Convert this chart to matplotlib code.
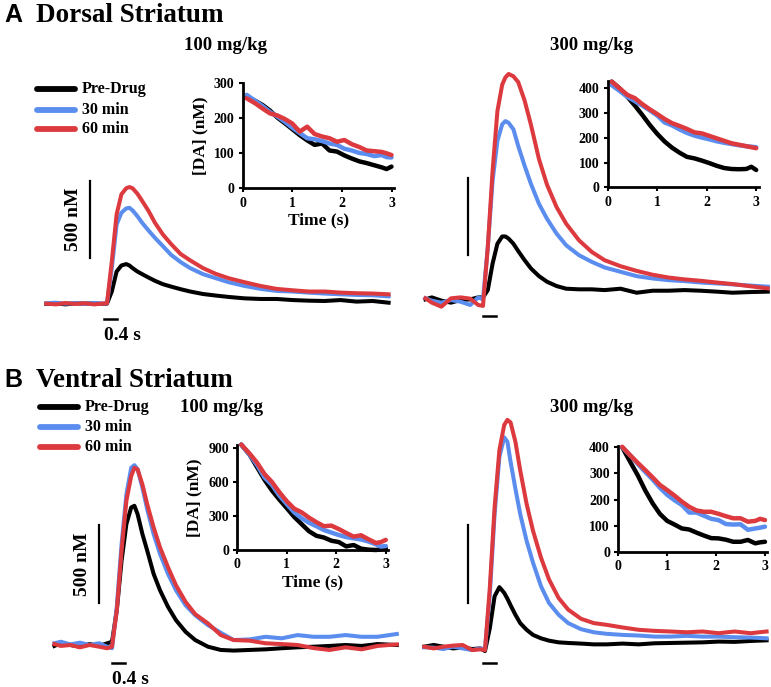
import matplotlib
matplotlib.use("Agg")
import matplotlib.pyplot as plt

W, H = 771, 687
BLACK, BLUE, RED = "#000000", "#5b8def", "#dc3a3f"
SERIF = "Liberation Serif"
SANS = "Liberation Sans"

CONDITIONS = ["Pre-Drug", "30 min", "60 min"]
COLORS = [BLACK, BLUE, RED]

# main traces: time from stimulation onset (s), [DA] (nM)
t_early = [-1.9, -1.6, -1.3, -1.0, -0.7, -0.4, -0.15, 0, 0.15, 0.3, 0.45, 0.6,
           0.7, 0.8, 0.95, 1.1, 1.3, 1.5, 1.75, 2.0, 2.3, 2.6, 3.0, 3.4, 3.8,
           4.3, 4.8, 5.3, 5.8, 6.3, 6.8, 7.3, 7.8, 8.3, 8.8]
t_late = [-1.8, -1.6, -1.3, -1.0, -0.7, -0.4, -0.15, 0, 0.15, 0.3, 0.45, 0.6,
          0.7, 0.8, 0.95, 1.1, 1.3, 1.5, 1.75, 2.0, 2.3, 2.6, 3.0, 3.4, 3.8,
          4.3, 4.8, 5.3, 5.8, 6.3, 6.8, 7.3, 7.8, 8.3, 8.9]

ds100_pre = [-6, -2, -9, -2, -4, -2, -6, -4, 74, 203, 242, 251, 242, 225, 203,
             186, 164, 143, 121, 106, 89, 74, 58, 48, 39, 30, 26, 26, 19, 15,
             13, 19, 9, 13, 2]
ds100_30 = [-2, 2, -4, 0, -6, 0, -4, -2, 225, 506, 582, 610, 614, 597, 560,
            517, 467, 420, 366, 311, 264, 225, 186, 160, 134, 110, 91, 78, 74,
            67, 61, 56, 52, 50, 43]
ds100_60 = [-4, -9, 0, -6, -2, -9, -4, -2, 268, 571, 701, 740, 748, 740, 705,
            658, 593, 517, 441, 381, 316, 275, 225, 188, 160, 134, 110, 91, 82,
            74, 74, 67, 63, 61, 56]

ds300_pre = [-9, 4, -17, -30, -13, -9, 4, 4, 51, 222, 350, 397, 397, 383, 350,
             303, 244, 190, 141, 105, 77, 60, 56, 56, 51, 60, 34, 47, 47, 51,
             47, 41, 34, 38, 41]
ds300_30 = [-2, -17, -30, -13, -24, -45, 4, -9, 329, 757, 1013, 1120, 1141,
            1130, 1088, 981, 853, 735, 607, 511, 415, 340, 276, 233, 197, 169,
            141, 126, 115, 109, 100, 94, 88, 81, 73]
ds300_60 = [-2, -30, -56, -2, 4, -4, -45, -51, 329, 821, 1205, 1376, 1423,
            1445, 1430, 1393, 1274, 1116, 895, 731, 586, 479, 372, 297, 244,
            205, 175, 150, 132, 120, 111, 100, 90, 77, 62]

vs100_pre = [-6, 11, 0, -11, 6, -6, 11, 21, 224, 545, 780, 887, 898, 844, 716,
             609, 459, 353, 246, 160, 85, 32, -11, -32, -36, -32, -28, -21,
             -15, -11, -6, 0, -6, 6, 0]
vs100_30 = [11, 21, 4, 15, 0, 11, -11, -21, 246, 652, 972, 1143, 1160, 1133,
            1015, 876, 716, 588, 459, 353, 256, 192, 128, 79, 32, 36, 53, 43,
            64, 53, 53, 64, 53, 53, 71]
vs100_60 = [6, -6, 0, -15, 0, -11, -21, -11, 224, 609, 930, 1090, 1143, 1133,
            1036, 908, 759, 630, 502, 385, 278, 199, 139, 64, 32, 28, 11, 6, 0,
            -20, -32, -15, -28, -6, 4]

vs300_pre = [2, 13, 2, -9, -4, -13, -9, -26, 121, 327, 386, 349, 312, 269, 208,
             154, 111, 78, 56, 41, 30, 26, 22, 17, 17, 22, 17, 24, 26, 28, 30,
             35, 33, 39, 43]
vs300_30 = [-2, -4, -13, 2, -9, -20, -9, -13, 338, 858, 1227, 1352, 1324, 1194,
            1021, 858, 685, 544, 392, 284, 208, 154, 115, 95, 85, 78, 74, 67,
            67, 72, 67, 67, 63, 61, 56]
vs300_60 = [2, -9, 2, 9, 13, -20, -15, -20, 381, 901, 1270, 1432, 1465, 1448,
            1324, 1140, 923, 750, 576, 436, 316, 241, 182, 154, 143, 126, 111,
            104, 100, 95, 100, 89, 100, 89, 100]

# insets: decay from the peak, time (s) and [DA] (nM)
t_inset = [0.08, 0.25, 0.4, 0.55, 0.7, 0.85, 1.0, 1.15, 1.3, 1.45, 1.6, 1.75,
           1.9, 2.05, 2.2, 2.35, 2.5, 2.65, 2.8, 2.9, 3.0]

ds100_in_pre = [262, 250, 238, 222, 202, 186, 169, 152, 137, 124, 128, 108,
                105, 94, 85, 77, 72, 66, 60, 55, 62]
ds100_in_30 = [267, 250, 235, 218, 205, 190, 173, 158, 143, 140, 135, 128, 124,
               113, 108, 101, 98, 92, 95, 89, 88]
ds100_in_60 = [257, 243, 228, 214, 208, 198, 185, 162, 176, 155, 148, 143, 133,
               138, 126, 118, 108, 106, 104, 100, 95]

ds300_in_pre = [427, 398, 365, 330, 292, 252, 216, 185, 160, 140, 123, 117,
                108, 98, 87, 78, 74, 73, 74, 83, 70]
ds300_in_30 = [413, 388, 365, 348, 330, 311, 290, 262, 250, 234, 220, 209, 201,
               194, 186, 180, 175, 170, 166, 164, 162]
ds300_in_60 = [427, 398, 373, 360, 336, 315, 296, 276, 259, 248, 236, 222, 218,
               208, 198, 188, 178, 172, 166, 162, 158]

vs100_in_pre = [930, 840, 730, 620, 525, 445, 369, 292, 228, 165, 125, 110, 82,
                70, 32, 44, 12, 3, 0, 5, 15]
vs100_in_30 = [930, 840, 750, 640, 575, 480, 405, 332, 280, 240, 210, 176, 154,
               132, 114, 103, 93, 75, 50, 30, 35]
vs100_in_60 = [930, 850, 770, 670, 600, 510, 430, 365, 332, 285, 245, 210, 215,
               185, 150, 118, 130, 95, 62, 70, 89]

vs300_in_pre = [400, 342, 292, 235, 186, 145, 118, 104, 89, 85, 73, 62, 52, 51,
                46, 38, 38, 45, 32, 36, 38]
vs300_in_30 = [400, 368, 336, 306, 277, 245, 218, 197, 179, 150, 150, 138, 126,
               121, 106, 104, 105, 84, 89, 92, 96]
vs300_in_60 = [402, 368, 340, 313, 285, 256, 236, 215, 192, 172, 158, 153, 153,
               145, 136, 128, 128, 115, 118, 126, 121]

PX_PER_S = 32.0
NM_PER_PX = 6.45


def fx(x):
    return x / W


def fy(y):
    return 1 - y / H


def px_axes(fig, left, top, right, bottom):
    return fig.add_axes([fx(left), fy(bottom), (right - left) / W, (bottom - top) / H])


def trace_panel(fig, box, origin, t, traces, vbar, hbar, labels=False):
    left, top, right, bottom = box
    x0, y0 = origin
    ax = px_axes(fig, *box)
    ax.set_xlim((left - x0) / PX_PER_S, (right - x0) / PX_PER_S)
    ax.set_ylim((y0 - bottom) * NM_PER_PX, (y0 - top) * NM_PER_PX)
    ax.axis("off")
    for y, c in zip(traces, COLORS):
        ax.plot(t, y, color=c, lw=2.9, clip_on=False, solid_joinstyle="round")
    bx, by = vbar
    ax.plot([bx, bx], [by, by + 500], color="black", lw=1.6)
    hx, hy = hbar
    ax.plot([hx, hx + 0.4], [hy, hy], color="black", lw=1.8)
    if labels:
        ax.annotate("500 nM", xy=(bx, by + 250), xytext=(-12, 0),
                    textcoords="offset points", rotation=90, ha="center",
                    va="center", fontsize=14, fontweight="bold", family=SERIF)
        ax.annotate("0.4 s", xy=(hx + 0.2, hy), xytext=(9, -12),
                    textcoords="offset points", ha="center", va="center",
                    fontsize=14, fontweight="bold", family=SERIF)
    return ax


def inset(fig, origin, px_per_s, px_per_nm, ymax, yticks, traces, labels=False):
    x0, y0 = origin
    xmax = 3.05
    ax = px_axes(fig, x0, y0 - ymax * px_per_nm, x0 + xmax * px_per_s, y0)
    ax.set_facecolor("none")
    for y, c in zip(traces, COLORS):
        ax.plot(t_inset, y, color=c, lw=3.2, solid_joinstyle="round",
                solid_capstyle="round", clip_on=False)
    ax.set_xlim(0, xmax)
    ax.set_ylim(0, ymax)
    ax.set_xticks([0, 1, 2, 3])
    ax.set_yticks(yticks)
    for s in ("top", "right"):
        ax.spines[s].set_visible(False)
    for s in ("left", "bottom"):
        ax.spines[s].set_linewidth(2)
    ax.tick_params(length=3, width=1.5, pad=3, labelsize=10)
    for lab in ax.get_xticklabels() + ax.get_yticklabels():
        lab.set_fontweight("bold")
        lab.set_family(SERIF)
    if labels:
        ax.set_ylabel("[DA] (nM)", fontsize=12.5, fontweight="bold",
                      family=SERIF, labelpad=4)
        ax.set_xlabel("Time (s)", fontsize=12.5, fontweight="bold",
                      family=SERIF, labelpad=2)
    return ax


def legend(fig, x, ys):
    for name, c, y in zip(CONDITIONS, COLORS, ys):
        fig.add_artist(plt.Line2D([fx(x), fx(x + 38)], [fy(y), fy(y)], color=c,
                                  lw=4.2, solid_capstyle="round"))
        fig.text(fx(x + 45), fy(y), name, fontsize=11.5, fontweight="bold",
                 family=SERIF, va="center", ha="left")


fig = plt.figure(figsize=(W / 100, H / 100), dpi=100)

# section titles
fig.text(fx(4), fy(22), "A", fontsize=18, fontweight="bold", family=SANS)
fig.text(fx(36), fy(22), "Dorsal Striatum", fontsize=19.5, fontweight="bold", family=SERIF)
fig.text(fx(4), fy(387), "B", fontsize=18, fontweight="bold", family=SANS)
fig.text(fx(36), fy(387), "Ventral Striatum", fontsize=19.5, fontweight="bold", family=SERIF)
for x, y, s in [(226, 50, "100 mg/kg"), (592, 50, "300 mg/kg"),
                (222, 412, "100 mg/kg"), (591, 412, "300 mg/kg")]:
    fig.text(fx(x), fy(y), s, fontsize=13.5, fontweight="bold", family=SERIF,
             ha="center", va="baseline")

legend(fig, 37, [89, 110, 129])
legend(fig, 40, [407, 427, 447])

# main traces
trace_panel(fig, (38, 150, 395, 345), (107, 303), t_early,
            [ds100_pre, ds100_30, ds100_60], (-0.53, 290), (-0.1, -103), labels=True)
trace_panel(fig, (418, 60, 771, 330), (483, 298), t_late,
            [ds300_pre, ds300_30, ds300_60], (-0.47, 277), (0.0, -116))
trace_panel(fig, (45, 440, 402, 690), (112, 645), t_late,
            [vs100_pre, vs100_30, vs100_60], (-0.41, 271), (0.0, -116), labels=True)
trace_panel(fig, (418, 415, 771, 680), (485, 647), t_early,
            [vs300_pre, vs300_30, vs300_60], (-0.53, 284), (-0.05, -103))

# insets
inset(fig, (242.7, 188.3), 49.6, 0.35, 300, [0, 100, 200, 300],
      [ds100_in_pre, ds100_in_30, ds100_in_60], labels=True)
inset(fig, (607.7, 187.3), 49.5, 0.2475, 430, [0, 100, 200, 300, 400],
      [ds300_in_pre, ds300_in_30, ds300_in_60])
inset(fig, (237.3, 550.0), 49.5, 34 / 300, 930, [0, 300, 600, 900],
      [vs100_in_pre, vs100_in_30, vs100_in_60], labels=True)
inset(fig, (618.3, 551.7), 48.9, 0.261, 405, [0, 100, 200, 300, 400],
      [vs300_in_pre, vs300_in_30, vs300_in_60])

fig.savefig("out.png", dpi=100)
